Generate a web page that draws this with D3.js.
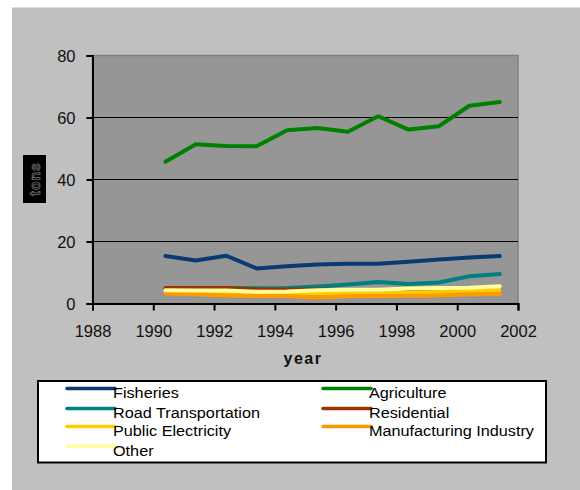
<!DOCTYPE html>
<html><head><meta charset="utf-8">
<script src="https://cdn.jsdelivr.net/npm/d3@7"></script>
<style>body{margin:0;background:#fff}svg{display:block;font-family:"Liberation Sans",Arial,sans-serif}</style>
</head><body><svg id="c" width="580" height="490"></svg>
<script>
const years = [1990.4,1991.4,1992.4,1993.4,1994.4,1995.4,1996.4,1997.4,1998.4,1999.4,2000.4,2001.4];
const seriesNames = ["Fisheries","Agriculture","Road Transportation","Residential","Public Electricity","Manufacturing Industry","Other"];
const seriesColors = ["#0a3a70","#008000","#008080","#993300","#ffcc00","#ff9900","#ffff99"];
const fisheries = [15.3,13.9,15.4,11.3,12.0,12.6,12.8,12.8,13.5,14.2,14.8,15.3];
const agriculture = [45.7,51.4,50.8,50.7,55.9,56.6,55.4,60.4,56.1,57.2,63.8,65.0];
const roadTransport = [4.8,4.9,5.0,4.9,5.0,5.5,6.1,6.9,6.3,6.8,8.8,9.5];
const residential = [5.0,5.0,5.0,4.6,4.5,4.5,4.3,4.2,4.2,4.4,4.6,4.8];
const publicElectricity = [3.8,3.6,3.5,3.2,3.2,3.3,3.3,3.3,3.5,3.7,4.0,4.4];
const manufacturing = [3.2,3.0,2.6,2.4,2.4,1.9,2.3,2.4,2.5,2.6,3.0,3.1];
const other = [4.3,4.2,4.2,3.8,3.9,4.3,4.4,4.4,4.8,5.0,5.1,5.6];
const xTicks = [1988,1990,1992,1994,1996,1998,2000,2002];
const yTicks = [0,20,40,60,80];
const allValues = [fisheries,agriculture,roadTransport,residential,publicElectricity,manufacturing,other];

const svg = d3.select("#c");
svg.append("rect").attr("x",12).attr("y",7.5).attr("width",568).attr("height",483).attr("fill","#c0c0c0");

const L=92.5, R=518, T=55.5, B=303.5;
const x = d3.scaleLinear().domain([1988,2002]).range([L,R]);
const y = d3.scaleLinear().domain([0,80]).range([B,T]);

svg.append("rect").attr("x",L).attr("y",T).attr("width",R-L).attr("height",B-T)
  .attr("fill","#969696").attr("stroke","#808080").attr("stroke-width",1.5);

// gridlines
svg.append("g").selectAll("line").data(yTicks.filter(d=>d>0&&d<80)).join("line")
  .attr("x1",L).attr("x2",R).attr("y1",d=>y(d)).attr("y2",d=>y(d))
  .attr("stroke","#000").attr("stroke-width",1.2);

// axes
const xAxis = svg.append("g").attr("transform",`translate(0,${B})`)
  .call(d3.axisBottom(x).tickValues(xTicks).tickFormat(d3.format("d")).tickSize(7).tickPadding(15));
const yAxis = svg.append("g").attr("transform",`translate(${L},0)`)
  .call(d3.axisLeft(y).tickValues(yTicks).tickSize(6).tickPadding(11));
[xAxis,yAxis].forEach(g=>{
  g.select(".domain").attr("stroke","#000").attr("stroke-width",2);
  g.selectAll(".tick line").attr("stroke","#000").attr("stroke-width",2);
  g.selectAll("text").attr("font-size",16.5).attr("fill","#111").attr("font-family","Liberation Sans, Arial, sans-serif");
});
yAxis.selectAll("text").attr("dy","0.35em");

// lines
const line = d3.line().x((d,i)=>x(years[i])).y(d=>y(d));
svg.append("g").selectAll("path").data(allValues).join("path")
  .attr("d",d=>line(d)).attr("fill","none")
  .attr("stroke",(d,i)=>seriesColors[i]).attr("stroke-width",4)
  .attr("stroke-linejoin","round").attr("stroke-linecap","round");

// axis titles
svg.append("text").attr("x",303).attr("y",364).attr("text-anchor","middle")
  .attr("font-size",16).attr("font-weight","bold").attr("letter-spacing",1.5).attr("fill","#111").text("year");
svg.append("rect").attr("x",23).attr("y",155).attr("width",23).attr("height",48).attr("fill","#000");
svg.append("text").attr("transform","translate(39.5,179) rotate(-90)").attr("text-anchor","middle")
  .attr("font-size",14).attr("font-weight","bold").attr("letter-spacing",1)
  .attr("fill","#111").attr("stroke","#777").attr("stroke-width",0.7).text("tons");

// legend
svg.append("rect").attr("x",38).attr("y",381).attr("width",508).attr("height",81.5)
  .attr("fill","#fff").attr("stroke","#000").attr("stroke-width",2);
const legendPos = [
  {lx:67, ly:388.5},{lx:323, ly:388.5},
  {lx:67, ly:408.5},{lx:323, ly:408.5},
  {lx:67, ly:426.5},{lx:323, ly:426.5},
  {lx:67, ly:446}
];
const lg = svg.append("g").selectAll("g").data(seriesNames).join("g")
  .attr("transform",(d,i)=>`translate(${legendPos[i].lx},${legendPos[i].ly})`);
lg.append("line").attr("x1",0).attr("x2",48).attr("y1",0).attr("y2",0)
  .attr("stroke",(d,i)=>seriesColors[i]).attr("stroke-width",3.5).attr("stroke-linecap","round");
lg.append("text").attr("transform","translate(46,9.5) scale(1.12,1)")
  .attr("font-size",14.5).attr("fill","#000").text(d=>d);
</script></body></html>
